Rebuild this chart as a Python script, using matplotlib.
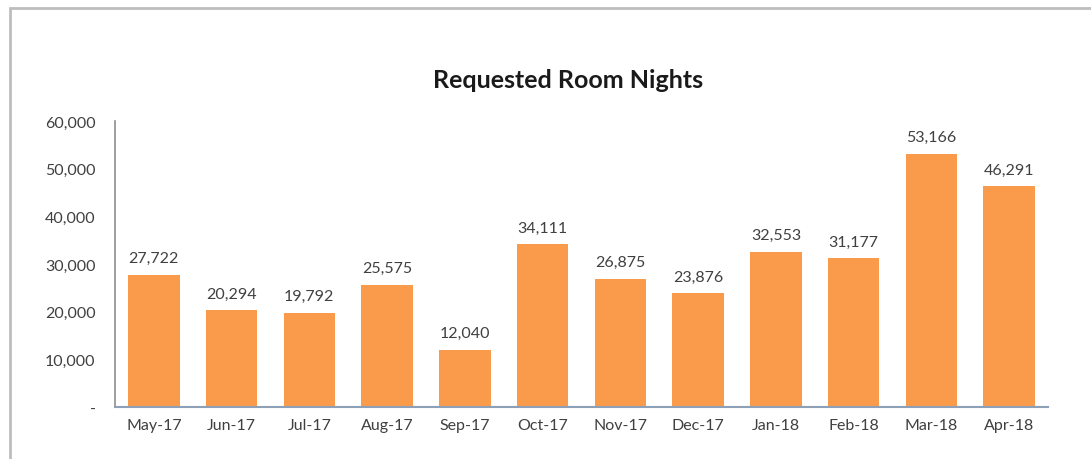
import matplotlib
matplotlib.use("Agg")
import matplotlib.pyplot as plt
from matplotlib.patches import Rectangle
from matplotlib.ticker import FuncFormatter

months = ["May-17", "Jun-17", "Jul-17", "Aug-17", "Sep-17", "Oct-17",
          "Nov-17", "Dec-17", "Jan-18", "Feb-18", "Mar-18", "Apr-18"]
room_nights = [27722, 20294, 19792, 25575, 12040, 34111,
               26875, 23876, 32553, 31177, 53166, 46291]
y_ticks = [0, 10000, 20000, 30000, 40000, 50000, 60000]

plt.rcParams['font.family'] = ['Lato', 'DejaVu Sans']

fig = plt.figure(figsize=(10.91, 4.60), dpi=100)
ax = fig.add_axes([0.1054, 0.113, 0.8552, 0.6218])

# outer chart border (clipped on right/bottom like the screenshot)
fig.patches.append(Rectangle((0.0092, -0.05), 1.1, 1.03, transform=fig.transFigure,
                             fill=False, edgecolor='#BDBDBD', linewidth=2))

x = range(len(months))
bars = ax.bar(x, room_nights, width=0.66, color='#F99B4B')

for b, v in zip(bars, room_nights):
    ax.annotate(f"{v:,}", (b.get_x() + b.get_width() / 2, v),
                xytext=(0, 7), textcoords='offset points',
                ha='center', va='bottom', fontsize=11.5, color='#404040')

ax.set_xlim(-0.5, len(months) - 0.5)
ax.set_ylim(0, 60000)
ax.set_yticks(y_ticks)
ax.yaxis.set_major_formatter(FuncFormatter(lambda v, p: "-" if v == 0 else f"{int(v):,}"))
ax.set_xticks(list(x))
ax.set_xticklabels(months)
ax.tick_params(axis='both', length=0, labelsize=11.5, labelcolor='#404040')
ax.tick_params(axis='y', pad=14)
ax.tick_params(axis='x', pad=8)

for s in ['top', 'right']:
    ax.spines[s].set_visible(False)
ax.spines['left'].set_color('#8E8E8E')
ax.spines['bottom'].set_color('#8EA0B8')
ax.spines['left'].set_linewidth(1.2)
ax.spines['bottom'].set_linewidth(1.5)

fig.text(0.521, 0.826, "Requested Room Nights", ha='center', va='center',
         fontsize=18, fontweight='bold', color='#1A1A1A')

fig.savefig("out.png", dpi=100)
